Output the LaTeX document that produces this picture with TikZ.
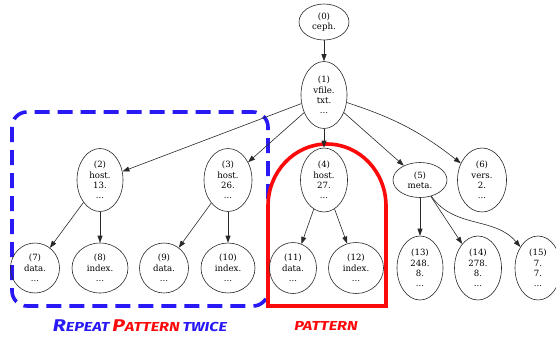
\documentclass[tikz,border=0pt]{standalone}
\usepackage{fontspec}
\usepackage{graphicx}
\setmainfont{DejaVu Serif}
\newfontfamily\capfont{Fira Sans}
\usetikzlibrary{shapes.geometric,arrows.meta}
\definecolor{boxblue}{RGB}{40,25,245}
\definecolor{boxred}{RGB}{250,10,10}
\definecolor{edgegray}{RGB}{40,40,40}
\newcommand{\bigc}{\fontsize{17}{17}\selectfont}
\newcommand{\smallc}{\fontsize{13}{13}\selectfont}
\tikzset{
  gnode/.style={ellipse,draw=edgegray,line width=0.6pt,inner sep=0pt,align=center,
    font=\fontsize{8.6}{10.4}\selectfont},
  garrow/.style={draw=edgegray,line width=0.6pt,-{Triangle[length=7pt,width=5pt]}},
  bluebox/.style={draw=boxblue,line width=3.6pt,dash pattern=on 15pt off 8pt,rounded corners=15pt},
  redarch/.style={draw=boxred,line width=3.6pt},
  captxt/.style={font=\capfont\bfseries\itshape,inner sep=0pt}
}
\begin{document}
\begin{tikzpicture}[x=1pt,y=-1pt]
\useasboundingbox (0,0) rectangle (556,341);
% decorations
\draw[bluebox] (12,112) rectangle (268,306);
\draw[redarch] (268,306) -- (268,206) arc[start angle=180,end angle=360,x radius=59,y radius=62] -- (386,306) -- cycle;
% nodes
\node[gnode,minimum width=50pt,minimum height=36pt] (n0) at (324,22) {(0)\\ceph.};
\node[gnode,minimum width=46pt,minimum height=67pt] (n1) at (324,95) {(1)\\vfile.\\txt.\\...};
\node[gnode,minimum width=46pt,minimum height=63pt] (n2) at (100,180) {(2)\\host.\\13.\\...};
\node[gnode,minimum width=48pt,minimum height=63pt] (n3) at (228,180) {(3)\\host.\\26.\\...};
\node[gnode,minimum width=47pt,minimum height=64pt] (n4) at (324,180) {(4)\\host.\\27.\\...};
\node[gnode,minimum width=54pt,minimum height=35pt] (n5) at (420,180) {(5)\\meta.};
\node[gnode,minimum width=49pt,minimum height=64pt] (n6) at (482,180) {(6)\\vers.\\2.\\...};
\node[gnode,minimum width=49pt,minimum height=50pt] (n7) at (35,268) {(7)\\data.\\...};
\node[gnode,minimum width=56pt,minimum height=50pt] (n8) at (100,268) {(8)\\index.\\...};
\node[gnode,minimum width=49pt,minimum height=50pt] (n9) at (164,268) {(9)\\data.\\...};
\node[gnode,minimum width=54pt,minimum height=50pt] (n10) at (228,268) {(10)\\index.\\...};
\node[gnode,minimum width=47pt,minimum height=51pt] (n11) at (293,268) {(11)\\data.\\...};
\node[gnode,minimum width=55pt,minimum height=51pt] (n12) at (356,268) {(12)\\index.\\...};
\node[gnode,minimum width=46pt,minimum height=64pt] (n13) at (420,268) {(13)\\248.\\8.\\...};
\node[gnode,minimum width=47pt,minimum height=64pt] (n14) at (478,268) {(14)\\278.\\8.\\...};
\node[gnode,minimum width=46pt,minimum height=64pt] (n15) at (538,268) {(15)\\7.\\7.\\...};
% edges
\draw[garrow] (n0) -- (n1);
\draw[garrow] (n1) -- (n2);
\draw[garrow] (n1) -- (n3);
\draw[garrow] (n1) -- (n4);
\draw[garrow] (n1) -- (n5);
\draw[garrow] (n1) to[bend left=10] (n6);
\draw[garrow] (n2) -- (n7);
\draw[garrow] (n2) -- (n8);
\draw[garrow] (n3) -- (n9);
\draw[garrow] (n3) -- (n10);
\draw[garrow] (n4) -- (n11);
\draw[garrow] (n4) -- (n12);
\draw[garrow] (n5) -- (n13);
\draw[garrow] (n5) -- (n14);
\draw[garrow] (n5) to[out=-55,in=130] (n15);
% captions
\node[captxt] (cap1) at (140,326) {\scalebox{1.25}[1]{\textcolor{boxblue}{\bigc R\smallc EPEAT} \textcolor{boxred}{\bigc P\smallc ATTERN} \textcolor{boxblue}{\smallc TWICE}}};
\node[captxt] (cap2) at (326,326) {\scalebox{1.25}[1]{\textcolor{boxred}{\smallc PATTERN}}};
\end{tikzpicture}
\end{document}
